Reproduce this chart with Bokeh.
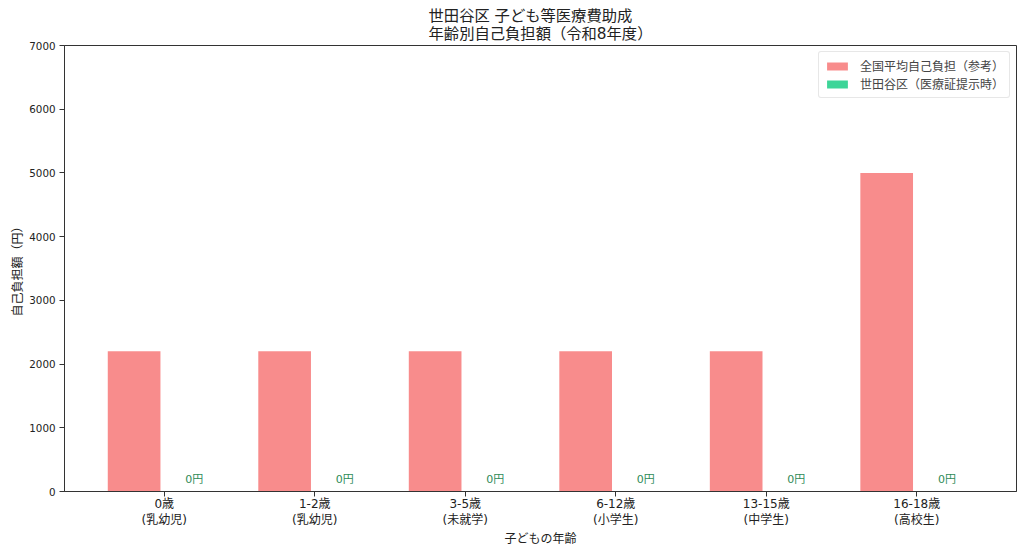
from bokeh.plotting import figure
from bokeh.models import ColumnDataSource, Range1d, FixedTicker, Legend, LegendItem
from bokeh.embed import file_html
from bokeh.resources import INLINE
from bokeh.core.properties import value

FONT = "DejaVu Sans, Noto Sans CJK JP"

ages = ["0歳\n(乳幼児)", "1-2歳\n(乳幼児)", "3-5歳\n(未就学)", "6-12歳\n(小学生)", "13-15歳\n(中学生)", "16-18歳\n(高校生)"]
national = [2200, 2200, 2200, 2200, 2200, 5000]
setagaya = [0, 0, 0, 0, 0, 0]
setagaya_labels = ["0円", "0円", "0円", "0円", "0円", "0円"]
y_ticks = [0, 1000, 2000, 3000, 4000, 5000, 6000, 7000]
x_title = "子どもの年齢"
y_title = "自己負担額（円）"

bar_w = 0.35
offset = 0.2
idx = list(range(len(ages)))

p = figure(width=1024, height=554, output_backend="svg", toolbar_location=None,
           x_range=Range1d(-0.6625, 5.6625), y_range=Range1d(0, 7000),
           min_border_left=64, min_border_right=8, min_border_top=45, min_border_bottom=63,
           title="世田谷区 子ども等医療費助成\n年齢別自己負担額（令和8年度）")
p.title.align = "center"
p.title.text_font = FONT
p.title.text_font_style = "normal"
p.title.text_font_size = "15.3px"
p.title.text_color = "#222222"
p.title.text_line_height = 1.0
p.title.standoff = 6
p.title.offset = 0

src_n = ColumnDataSource(dict(x=[i - offset for i in idx], top=national))
src_s = ColumnDataSource(dict(x=[i + offset for i in idx], top=setagaya))
src_t = ColumnDataSource(dict(x=[i + offset for i in idx], y=[190] * len(idx), t=setagaya_labels))

r1 = p.vbar(x="x", top="top", bottom=0, width=bar_w, source=src_n,
            fill_color="#F88C8C", line_color=None)
r2 = p.vbar(x="x", top="top", bottom=0, width=bar_w, source=src_s,
            fill_color="#3DD598", line_color=None)
p.text(x="x", y="y", text="t", source=src_t, text_align="center", text_baseline="middle",
       text_font=value(FONT), text_font_size="11px", text_color="#2E8B57")

legend = Legend(items=[LegendItem(label="全国平均自己負担（参考）", renderers=[r1]),
                       LegendItem(label="世田谷区（医療証提示時）", renderers=[r2])],
                location="top_right")
legend.label_text_font = FONT
legend.label_text_font_size = "12px"
legend.label_height = 14
legend.label_text_line_height = 1.0
legend.glyph_width = 26
legend.glyph_height = 10
legend.label_standoff = 10
legend.spacing = 1
legend.padding = 5
legend.margin = 6
legend.border_line_color = "#D0D0D0"
legend.border_radius = 3
p.add_layout(legend)

p.xaxis.ticker = FixedTicker(ticks=idx)
p.xaxis.major_label_overrides = {i: ages[i] for i in idx}
p.yaxis.ticker = FixedTicker(ticks=y_ticks)
p.xaxis.axis_label = x_title
p.yaxis.axis_label = y_title
for ax in (p.xaxis, p.yaxis):
    ax.axis_label_text_font = FONT
    ax.axis_label_text_font_style = "normal"
    ax.axis_label_text_font_size = "12px"
    ax.axis_label_text_color = "#222222"
    ax.axis_label_text_line_height = 1.0
    ax.major_label_text_font = FONT
    ax.major_label_text_color = "#222222"
    ax.minor_tick_line_color = None
    ax.major_tick_out = 5
    ax.major_tick_in = 0
    ax.axis_line_color = "#333333"
    ax.major_tick_line_color = "#333333"
p.xaxis.major_label_text_font_size = "12px"
p.xaxis.major_label_text_line_height = 1.2
p.yaxis.major_label_text_font_size = "10.3px"
p.xaxis.major_label_standoff = 0
p.xaxis.axis_label_standoff = 2
p.yaxis.major_label_standoff = 4
p.yaxis.axis_label_standoff = 1

p.xgrid.visible = False
p.ygrid.visible = False
p.outline_line_color = "#333333"
p.outline_line_alpha = 1.0

open("out.html", "w").write(file_html(p, INLINE))
